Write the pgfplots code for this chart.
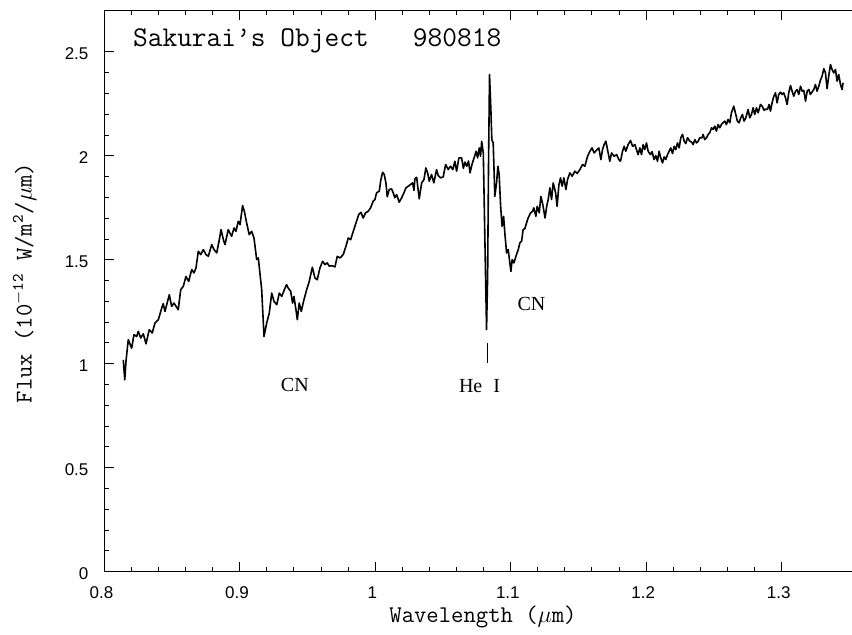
\documentclass[border=0pt]{standalone}
\usepackage{fontspec}
\setmainfont{Liberation Sans}
\newfontfamily\serifCN{Liberation Serif}
\usepackage{pgfplots}
\pgfplotsset{compat=1.18}
\usetikzlibrary{calc}
\begin{document}
\begin{tikzpicture}
\begin{axis}[
  scale only axis, width=373.85pt, height=280.7pt,
  xmin=0.8, xmax=1.352, ymin=0, ymax=2.7,
  axis x line*=box, axis y line*=left,
  xtick={0.8,0.9,1,1.1,1.2,1.3},
  ytick={0,0.5,1,1.5,2,2.5},
  minor x tick num=4, minor y tick num=4,
  tick align=inside,
  major tick length=5pt, minor tick length=2.5pt,
  every tick/.style={black, line width=0.5pt},
  axis line style={line width=0.7pt},
  /pgf/number format/assume math mode=true,
  tick label style={font=\fontsize{8.5}{10}\selectfont},
  xticklabel style={yshift=-3.8pt, xshift=-1.4pt},
  yticklabel style={xshift=-4.4pt, yshift=-1pt},
  xlabel={Wavelength ($\mu$m)},
  xlabel style={font=\ttfamily\fontsize{12}{14}\selectfont, at={(axis description cs:0.5065,0)}, anchor=base, yshift=-25.65pt},
  ylabel={Flux (10\textsuperscript{$-$12} W/m\textsuperscript{2}/$\mu$m)},
  ylabel style={font=\ttfamily\fontsize{12}{14}\selectfont, at={(axis description cs:-0.0971,0.514)}, anchor=base},
]
\addplot[black, line width=0.8pt, line join=round, mark=none] coordinates {
(0.8140,1.019) (0.8151,0.923) (0.8160,1.011) (0.8177,1.116) (0.8202,1.075) (0.8219,1.140)
(0.8239,1.131) (0.8251,1.156) (0.8269,1.124) (0.8288,1.144) (0.8308,1.096) (0.8332,1.164)
(0.8354,1.148) (0.8374,1.196) (0.8399,1.212) (0.8424,1.268) (0.8435,1.289) (0.8448,1.252)
(0.8480,1.332) (0.8497,1.276) (0.8514,1.292) (0.8546,1.260) (0.8564,1.356) (0.8583,1.372)
(0.8603,1.420) (0.8623,1.396) (0.8645,1.453) (0.8662,1.437) (0.8677,1.461) (0.8694,1.541)
(0.8712,1.525) (0.8731,1.549) (0.8751,1.525) (0.8768,1.517) (0.8793,1.573) (0.8810,1.549)
(0.8830,1.533) (0.8849,1.597) (0.8862,1.645) (0.8879,1.597) (0.8891,1.573) (0.8915,1.645)
(0.8940,1.613) (0.8958,1.653) (0.8972,1.637) (0.8989,1.685) (0.9002,1.669) (0.9021,1.761)
(0.9034,1.733) (0.9051,1.677) (0.9070,1.621) (0.9088,1.637) (0.9105,1.605) (0.9125,1.501)
(0.9137,1.509) (0.9162,1.356) (0.9179,1.131) (0.9199,1.196) (0.9218,1.244) (0.9236,1.340)
(0.9253,1.300) (0.9273,1.284) (0.9292,1.340) (0.9310,1.324) (0.9334,1.364) (0.9346,1.380)
(0.9358,1.364) (0.9376,1.348) (0.9390,1.292) (0.9400,1.324) (0.9415,1.260) (0.9425,1.212)
(0.9439,1.292) (0.9454,1.252) (0.9474,1.308) (0.9494,1.356) (0.9513,1.396) (0.9536,1.464)
(0.9555,1.413) (0.9572,1.404) (0.9592,1.461) (0.9612,1.493) (0.9629,1.477) (0.9646,1.485)
(0.9661,1.469) (0.9678,1.472) (0.9703,1.466) (0.9720,1.517) (0.9740,1.509) (0.9764,1.525)
(0.9784,1.565) (0.9801,1.605) (0.9819,1.597) (0.9838,1.637) (0.9858,1.677) (0.9878,1.717)
(0.9895,1.728) (0.9911,1.701) (0.9929,1.726) (0.9948,1.733) (0.9966,1.750) (0.9985,1.782)
(0.9998,1.790) (1.0010,1.822) (1.0030,1.830) (1.0042,1.886) (1.0055,1.921) (1.0067,1.910)
(1.0079,1.870) (1.0089,1.803) (1.0103,1.838) (1.0121,1.841) (1.0133,1.822) (1.0145,1.798)
(1.0158,1.814) (1.0177,1.777) (1.0195,1.798) (1.0212,1.822) (1.0227,1.846) (1.0244,1.854)
(1.0261,1.862) (1.0276,1.870) (1.0286,1.834) (1.0293,1.889) (1.0306,1.897) (1.0325,1.793)
(1.0343,1.870) (1.0360,1.886) (1.0374,1.942) (1.0387,1.918) (1.0399,1.878) (1.0416,1.910)
(1.0433,1.870) (1.0453,1.934) (1.0465,1.905) (1.0483,1.894) (1.0502,1.899) (1.0520,1.958)
(1.0539,1.934) (1.0556,1.950) (1.0573,1.934) (1.0588,1.974) (1.0601,1.926) (1.0618,1.990)
(1.0638,1.990) (1.0651,1.940) (1.0663,1.970) (1.0676,1.950) (1.0689,1.975) (1.0700,1.918)
(1.0715,1.960) (1.0730,1.990) (1.0745,2.022) (1.0756,1.990) (1.0768,2.038) (1.0778,1.998)
(1.0786,2.070) (1.0798,2.014) (1.0808,1.661) (1.0817,1.340) (1.0822,1.164) (1.0830,1.420)
(1.0837,1.981) (1.0844,2.391) (1.0854,2.223) (1.0861,2.078) (1.0871,2.062) (1.0878,1.918)
(1.0883,1.805) (1.0896,1.870) (1.0906,1.950) (1.0915,1.910) (1.0926,1.757) (1.0937,1.661)
(1.0948,1.709) (1.0957,1.629) (1.0970,1.533) (1.0982,1.549) (1.0994,1.485) (1.1002,1.444)
(1.1011,1.501) (1.1024,1.485) (1.1039,1.517) (1.1056,1.549) (1.1068,1.581) (1.1081,1.590)
(1.1092,1.645) (1.1105,1.650) (1.1117,1.677) (1.1129,1.701) (1.1147,1.726) (1.1162,1.733)
(1.1171,1.750) (1.1186,1.709) (1.1196,1.757) (1.1211,1.726) (1.1223,1.805) (1.1236,1.770)
(1.1254,1.701) (1.1266,1.757) (1.1277,1.790) (1.1290,1.846) (1.1302,1.790) (1.1314,1.870)
(1.1332,1.822) (1.1343,1.757) (1.1356,1.860) (1.1368,1.894) (1.1380,1.854) (1.1393,1.894)
(1.1408,1.838) (1.1420,1.886) (1.1437,1.918) (1.1454,1.902) (1.1474,1.926) (1.1491,1.915)
(1.1511,1.934) (1.1531,1.958) (1.1548,1.950) (1.1568,1.998) (1.1585,2.022) (1.1601,2.038)
(1.1616,2.014) (1.1634,2.027) (1.1651,2.038) (1.1666,1.982) (1.1678,2.030) (1.1690,2.054)
(1.1703,2.070) (1.1715,2.030) (1.1732,1.974) (1.1745,2.014) (1.1764,1.998) (1.1782,2.006)
(1.1799,1.982) (1.1811,1.974) (1.1826,2.022) (1.1838,2.046) (1.1850,2.022) (1.1867,2.054)
(1.1885,2.074) (1.1900,2.046) (1.1917,2.054) (1.1929,2.030) (1.1941,2.006) (1.1954,2.038)
(1.1966,2.006) (1.1978,2.054) (1.1990,2.030) (1.2003,2.062) (1.2015,2.022) (1.2032,2.006)
(1.2044,2.020) (1.2059,1.982) (1.2072,2.001) (1.2084,1.974) (1.2096,2.022) (1.2108,1.990)
(1.2121,1.966) (1.2133,1.995) (1.2145,1.982) (1.2158,2.006) (1.2170,2.022) (1.2182,2.038)
(1.2195,2.011) (1.2207,2.046) (1.2219,2.030) (1.2232,2.062) (1.2244,2.038) (1.2256,2.087)
(1.2269,2.103) (1.2281,2.070) (1.2293,2.059) (1.2306,2.087) (1.2323,2.070) (1.2337,2.066)
(1.2347,2.054) (1.2360,2.078) (1.2372,2.062) (1.2384,2.070) (1.2396,2.087) (1.2413,2.087)
(1.2421,2.103) (1.2433,2.078) (1.2446,2.087) (1.2458,2.103) (1.2470,2.111) (1.2483,2.135)
(1.2495,2.127) (1.2507,2.143) (1.2519,2.119) (1.2532,2.151) (1.2544,2.135) (1.2556,2.151)
(1.2568,2.159) (1.2581,2.167) (1.2593,2.150) (1.2605,2.175) (1.2618,2.159) (1.2630,2.207)
(1.2647,2.239) (1.2659,2.207) (1.2674,2.167) (1.2686,2.159) (1.2699,2.183) (1.2711,2.199)
(1.2723,2.167) (1.2736,2.183) (1.2753,2.223) (1.2765,2.183) (1.2778,2.199) (1.2790,2.231)
(1.2802,2.199) (1.2815,2.231) (1.2827,2.207) (1.2844,2.247) (1.2856,2.240) (1.2871,2.219)
(1.2883,2.225) (1.2896,2.223) (1.2908,2.247) (1.2918,2.215) (1.2930,2.255) (1.2943,2.287)
(1.2955,2.303) (1.2967,2.255) (1.2979,2.295) (1.2992,2.306) (1.3004,2.295) (1.3016,2.303)
(1.3029,2.279) (1.3041,2.247) (1.3053,2.303) (1.3066,2.338) (1.3078,2.311) (1.3090,2.287)
(1.3103,2.311) (1.3115,2.319) (1.3127,2.295) (1.3140,2.335) (1.3152,2.311) (1.3164,2.315)
(1.3177,2.263) (1.3189,2.311) (1.3201,2.319) (1.3213,2.295) (1.3225,2.307) (1.3238,2.319)
(1.3250,2.343) (1.3262,2.311) (1.3275,2.335) (1.3287,2.364) (1.3299,2.383) (1.3312,2.419)
(1.3324,2.399) (1.3336,2.323) (1.3348,2.383) (1.3361,2.439) (1.3373,2.415) (1.3385,2.399)
(1.3398,2.415) (1.3410,2.359) (1.3422,2.391) (1.3435,2.343) (1.3447,2.319) (1.3454,2.351)
};
% He I marker
\addplot[black, line width=0.6pt, mark=none] coordinates {(1.0830,1.003) (1.0830,1.102)};
\node[anchor=base west, font=\ttfamily\fontsize{14.3}{16}\selectfont, xshift=-3.5pt] at (axis description cs:0.0384,0.9352) {Sakurai’s Object\ \ \ 980818};
\node[anchor=base, font=\serifCN\fontsize{10}{12}\selectfont] at (axis cs:0.9407,0.865) {CN};
\node[anchor=base, font=\serifCN\fontsize{10}{12}\selectfont] at (axis cs:1.0770,0.862) {He\hspace{0.55em}I};
\node[anchor=base, font=\serifCN\fontsize{10}{12}\selectfont] at (axis cs:1.1154,1.2566) {CN};
\end{axis}
\pgfresetboundingbox
\path[use as bounding box] ($(current axis.south west)+(-52.15pt,-31.65pt)$) rectangle ($(current axis.north east)+(0pt,5.15pt)$);
\end{tikzpicture}
\end{document}
